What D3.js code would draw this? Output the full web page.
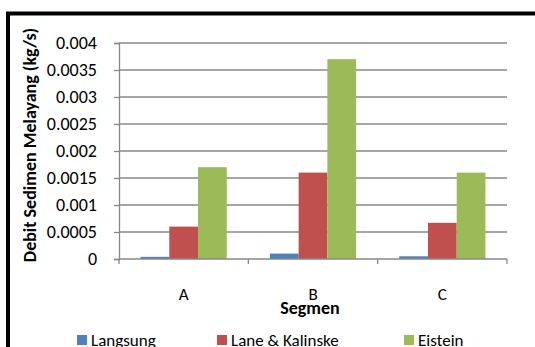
<!DOCTYPE html>
<html>
<head>
<meta charset="utf-8">
<script src="https://cdn.jsdelivr.net/npm/d3@7"></script>
<style>
  html, body { margin: 0; padding: 0; background: #fff; }
  svg { display: block; font-family: Carlito, Lato, "Open Sans", sans-serif; }
</style>
</head>
<body>
<svg id="chart" width="535" height="347"></svg>
<script>
// Segments and the three sediment-discharge formulas
const segments = ["A", "B", "C"];
const seriesNames = ["Langsung", "Lane & Kalinske", "Eistein"];
const langsung = [0.00004, 0.0001, 0.00005];
const laneKalinske = [0.0006, 0.0016, 0.00067];
const eistein = [0.0017, 0.0037, 0.0016];
const yTicks = [0, 0.0005, 0.001, 0.0015, 0.002, 0.0025, 0.003, 0.0035, 0.004];
const yTickLabels = ["0", "0.0005", "0.001", "0.0015", "0.002", "0.0025", "0.003", "0.0035", "0.004"];
const colors = ["#4f81bd", "#c0504d", "#9bbb59"];

const seriesValues = [langsung, laneKalinske, eistein];
const FONT = "Carlito, Lato, sans-serif";

const svg = d3.select("#chart");
const plot = { left: 119, right: 507, top: 43, bottom: 259 };

// outer frame (runs off the right and bottom edges)
svg.append("rect")
  .attr("x", 8).attr("y", 13.5)
  .attr("width", 560).attr("height", 380)
  .attr("fill", "none").attr("stroke", "#000").attr("stroke-width", 4);

const x0 = d3.scaleBand().domain(segments).range([plot.left, plot.right]);
const x1 = d3.scaleBand().domain(seriesNames)
  .range([0, x0.bandwidth()]).paddingOuter(0.75);
const y = d3.scaleLinear().domain([0, 0.004]).range([plot.bottom, plot.top]);

// horizontal gridlines
svg.append("g").selectAll("line").data(yTicks.slice(1)).join("line")
  .attr("x1", plot.left).attr("x2", plot.right)
  .attr("y1", d => y(d)).attr("y2", d => y(d))
  .attr("stroke", "#888").attr("stroke-width", 1.3);

// bars
const groups = svg.append("g").selectAll("g").data(segments).join("g")
  .attr("transform", d => `translate(${x0(d)},0)`);
groups.selectAll("rect")
  .data((d, i) => seriesNames.map((s, j) => ({ s, j, v: seriesValues[j][i] })))
  .join("rect")
  .attr("x", d => x1(d.s))
  .attr("width", x1.bandwidth())
  .attr("y", d => y(d.v))
  .attr("height", d => plot.bottom - y(d.v))
  .attr("fill", d => colors[d.j]);

// y axis
const yAxis = d3.axisLeft(y).tickValues(yTicks)
  .tickFormat((d, i) => yTickLabels[i]).tickSize(5).tickPadding(17);
const gy = svg.append("g").attr("transform", `translate(${plot.left},0)`).call(yAxis);
gy.attr("font-size", null).attr("font-family", null);
gy.select(".domain").attr("stroke", "#888").attr("stroke-width", 1.3);
gy.selectAll(".tick line").attr("stroke", "#888").attr("stroke-width", 1.3);
gy.selectAll("text").attr("fill", "#000")
  .style("font-size", "18px").style("font-family", FONT);

// x axis: category ticks at band boundaries
svg.append("line")
  .attr("x1", plot.left).attr("x2", plot.right)
  .attr("y1", plot.bottom).attr("y2", plot.bottom)
  .attr("stroke", "#888").attr("stroke-width", 1.3);
const boundaries = segments.map(s => x0(s)).concat([x0(segments[segments.length - 1]) + x0.bandwidth()]);
svg.append("g").selectAll("line").data(boundaries).join("line")
  .attr("x1", d => d).attr("x2", d => d)
  .attr("y1", plot.bottom).attr("y2", plot.bottom + 5)
  .attr("stroke", "#888").attr("stroke-width", 1.3);
svg.append("g").selectAll("text").data(segments).join("text")
  .attr("x", d => x0(d) + x0.bandwidth() / 2)
  .attr("y", 300)
  .attr("text-anchor", "middle")
  .style("font-size", "17px")
  .text(d => d);

// axis titles
svg.append("text")
  .attr("x", 310).attr("y", 314)
  .attr("text-anchor", "middle")
  .style("font-size", "18px").attr("font-weight", "bold")
  .text("Segmen");
svg.append("text")
  .attr("transform", "translate(36,145) rotate(-90)")
  .attr("text-anchor", "middle")
  .style("font-size", "18px").attr("font-weight", "bold")
  .text("Debit Sedimen Melayang (kg/s)");

// legend
const legendX = [77, 217, 404];
const legend = svg.append("g").selectAll("g").data(seriesNames).join("g")
  .attr("transform", (d, i) => `translate(${legendX[i]},335)`);
legend.append("rect").attr("width", 10).attr("height", 10)
  .attr("fill", (d, i) => colors[i]);
legend.append("text").attr("x", 14).attr("y", 11)
  .style("font-size", "17px").text(d => d);
</script>
</body>
</html>
